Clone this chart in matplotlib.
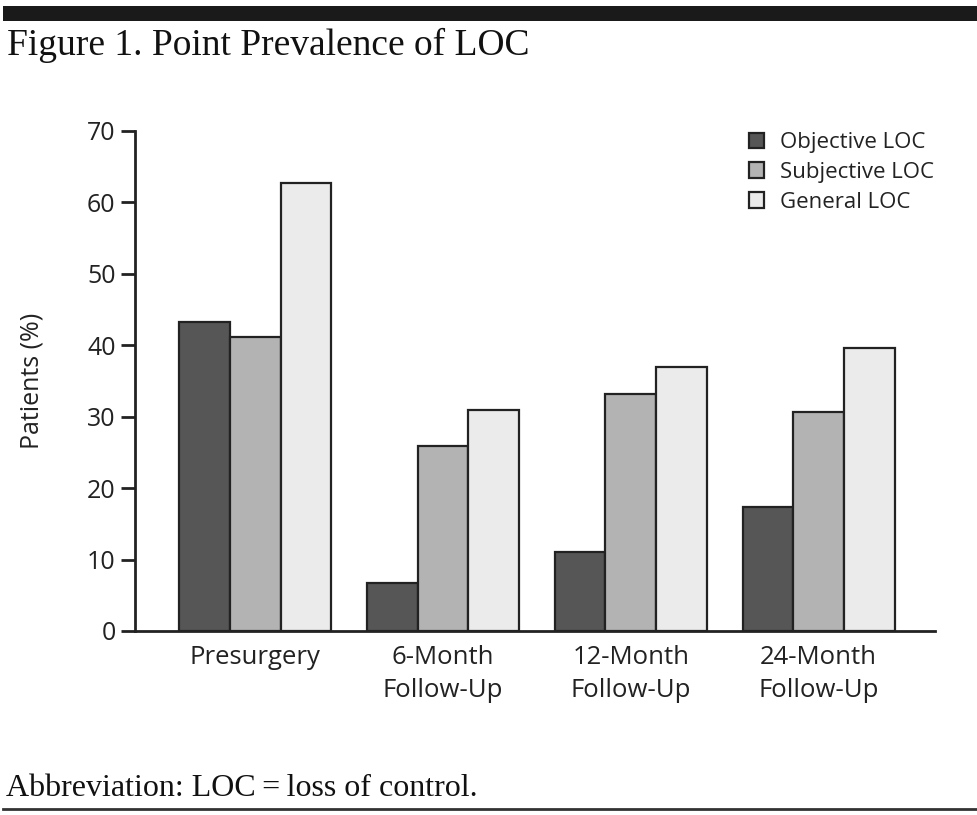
import matplotlib
matplotlib.use("Agg")
import matplotlib.pyplot as plt
import numpy as np
from matplotlib.patches import Rectangle
from matplotlib.lines import Line2D

categories = ["Presurgery", "6-Month\nFollow-Up", "12-Month\nFollow-Up", "24-Month\nFollow-Up"]
series_names = ["Objective LOC", "Subjective LOC", "General LOC"]
objective = [43.3, 6.7, 11.0, 17.4]
subjective = [41.2, 25.9, 33.2, 30.6]
general = [62.7, 31.0, 37.0, 39.6]
yticks = [0, 10, 20, 30, 40, 50, 60, 70]

colors = ["#565656", "#b3b3b3", "#ebebeb"]
edge = "#222222"
txt = "#222222"
sans = ["Open Sans", "DejaVu Sans"]
serif = ["Liberation Serif", "DejaVu Serif"]

W, H = 977, 815
fig = plt.figure(figsize=(W / 100, H / 100), dpi=100)
ax = fig.add_axes([135 / W, 1 - 631 / H, 800 / W, 500 / H])

x = np.arange(len(categories))
bw = 0.27
for i, (vals, name) in enumerate(zip([objective, subjective, general], series_names)):
    ax.bar(x + (i - 1) * bw, vals, width=bw, color=colors[i], edgecolor=edge,
           linewidth=1.6, label=name, zorder=3)

ax.set_xlim(-0.64, 3.62)
ax.set_ylim(0, 70)
ax.set_yticks(yticks)
ax.set_yticklabels([str(t) for t in yticks], fontsize=18, family=sans, color=txt)
ax.set_xticks(x)
ax.set_xticklabels(categories, fontsize=18.5, family=sans, color=txt, linespacing=1.42, va="top")
ax.tick_params(axis="x", length=0, pad=10)
ax.tick_params(axis="y", length=10, width=2, color=edge, pad=4, direction="out")
for s in ["top", "right"]:
    ax.spines[s].set_visible(False)
for s in ["left", "bottom"]:
    ax.spines[s].set_linewidth(2)
    ax.spines[s].set_color(edge)
ax.set_ylabel("Patients (%)", fontsize=18, family=sans, color=txt)
ax.yaxis.set_label_coords((45 - 135) / 800, 0.5)

leg = ax.legend(loc="upper left", bbox_to_anchor=((749 - 135) / 800, 1.0 - 1 / 500), frameon=False,
                prop={"family": sans, "size": 16}, handlelength=0.68, handleheight=0.68,
                handletextpad=0.7, labelspacing=0.4, borderaxespad=0, borderpad=0)
for t in leg.get_texts():
    t.set_color(txt)

# decorations: top thick bar, title, footnote, bottom rule
fig.add_artist(Rectangle((3 / W, 1 - 21 / H), (W - 3) / W, 15 / H, transform=fig.transFigure,
                         facecolor="#1a1a1a", edgecolor="none"))
fig.text(7 / W, 1 - 55 / H, "Figure 1. Point Prevalence of LOC", family=serif, fontsize=27,
         va="baseline", ha="left", color="#111111")
fig.text(6 / W, 1 - 796 / H, "Abbreviation: LOC\u2009=\u2009loss of control.", family=serif, fontsize=23,
         va="baseline", ha="left", color="#111111")
fig.add_artist(Line2D([3 / W, 1], [1 - 809 / H, 1 - 809 / H], transform=fig.transFigure,
                      color="#333333", linewidth=2))

fig.savefig("out.png", dpi=100)
